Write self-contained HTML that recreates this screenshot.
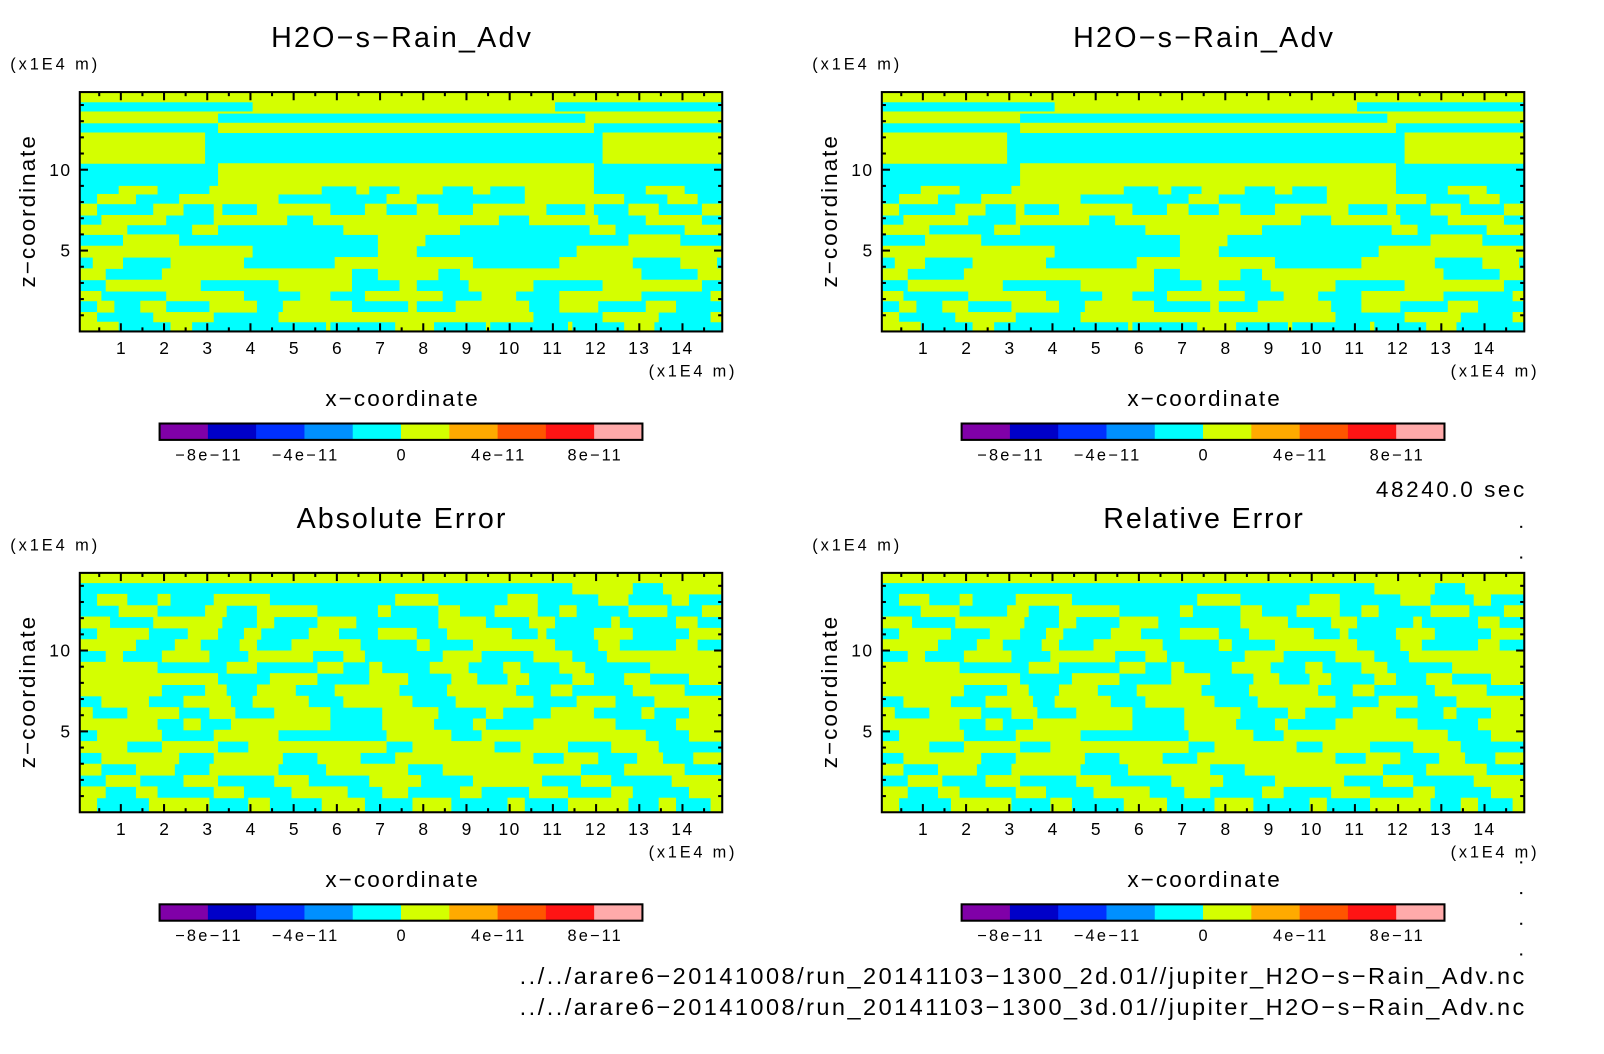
<!DOCTYPE html>
<html><head><meta charset="utf-8"><style>
html,body{margin:0;padding:0;background:#fff}
svg{display:block}
text{font-family:"Liberation Sans","DejaVu Sans",sans-serif;fill:#000}
</style></head><body>
<svg id="fig" width="1604" height="1054" viewBox="0 0 1604 1054" xmlns="http://www.w3.org/2000/svg"><g id="root" transform="scale(1.023)"></g></svg>
<script>
// ---- data ----
const colorLevels = ["#8000a8","#0000c8","#0030ff","#0090ff","#00ffff","#d4ff00","#ffaa00","#ff5500","#ff1414","#ffaaaa"];
const colorbarTicks = ["-8e-11","-4e-11","0","4e-11","8e-11"];
const xTicks = [1,2,3,4,5,6,7,8,9,10,11,12,13,14];
const zTicks = [5,10];
const panelTitles = ["H2O-s-Rain_Adv","H2O-s-Rain_Adv","Absolute Error","Relative Error"];
// rows: [zBottom, zTop, [yellow intervals in x]]
const fieldRowsModel = [
 [14.2,14.9,[[0,15]]],
 [13.6,14.2,[[3.9,11.2]]],
 [13.5,13.6,[[0,15]]],
 [12.9,13.5,[[0,3.4],[11.6,15]]],
 [12.3,12.9,[[3.1,12.1]]],
 [10.4,12.3,[[0,3.1],[12.0,15]]],
 [10.1,10.4,[[3.1,12.1]]],
 [9.0,10.1,[[3.1,12.1]]],
 [8.5,9.0,[[0,0.2],[0.8,2.0],[2.9,5.8],[6.3,6.9],[7.3,8.6],[9.0,9.7],[10.2,12.1],[13.0,14.2],[14.8,15]]],
 [7.9,8.5,[[0.3,1.5],[2.2,4.8],[7.0,8.0],[10.2,12.8],[13.5,14.5]]],
 [7.2,7.9,[[0,0.6],[1.6,2.6],[3.0,3.5],[4.0,6.0],[6.5,7.3],[7.7,8.5],[9.0,11.0],[11.6,12.1],[12.6,13.6],[14.3,15]]],
 [6.6,7.2,[[0.4,2.2],[3.0,5.0],[5.3,9.9],[10.3,12.2],[13.0,14.6]]],
 [6.0,6.6,[[0,1.3],[2.5,3.4],[6.0,9.0],[11.7,12.6],[13.9,15]]],
 [5.3,6.0,[[0.9,2.5],[6.8,8.2],[12.6,14.1]]],
 [4.6,5.3,[[0,4.2],[6.8,8.0],[11.4,15]]],
 [3.9,4.6,[[0.2,1.2],[2.0,4.0],[5.8,9.3],[11.0,13.0],[13.8,14.8]]],
 [3.2,3.9,[[0,0.8],[1.8,6.5],[6.8,8.5],[8.7,13.2],[14.2,15]]],
 [2.5,3.2,[[0.5,3.0],[4.5,6.5],[7.3,8.0],[8.9,10.7],[12.0,14.6]]],
 [1.9,2.5,[[0,0.7],[1.9,4.0],[5.0,6.0],[6.5,8.6],[9.2,10.3],[11.0,13.2],[14.5,15]]],
 [1.2,1.9,[[0.3,1.0],[1.3,2.2],[2.9,4.3],[4.6,6.5],[7.5,8.0],[8.6,10.6],[11.0,12.2],[13.0,14.0]]],
 [0.6,1.2,[[0,0.6],[1.6,3.3],[4.5,10.7],[12.0,13.6],[14.5,15]]],
 [0,0.6,[[0,1.1],[2.0,2.8],[5.6,6.0],[7.2,8.4],[9.3,9.7],[11.2,11.6],[12.5,13.5]]]
];
const fieldRowsError = [
 [14.2,14.9,[[0,15]]],
 [13.5,14.2,[[11.3,13.0],[13.4,14.9]]],
 [12.8,13.5,[[0.3,1.3],[1.7,2.3],[3.0,4.6],[7.2,8.5],[9.8,10.8],[11.9,12.9],[13.6,14.3]]],
 [12.1,12.8,[[0.8,2.0],[2.8,3.6],[4.0,5.7],[6.8,7.4],[8.2,9.0],[9.5,10.8],[11.0,11.7],[12.6,13.8],[14.3,14.9]]],
 [11.4,12.1,[[0,0.9],[1.6,3.5],[4.0,4.7],[5.4,6.6],[8.2,9.6],[10.3,11.2],[12.2,12.7],[13.7,14.5]]],
 [10.7,11.4,[[0.3,1.8],[2.4,3.4],[3.7,4.4],[5.2,6.2],[6.8,8.0],[8.4,10.2],[10.5,11.0],[11.8,13.0],[14.0,14.9]]],
 [10.0,10.7,[[0,1.5],[2.1,3.0],[3.6,4.3],[4.8,6.7],[7.7,8.3],[9.0,11.2],[11.9,12.7],[13.7,14.5]]],
 [9.3,10.0,[[0.5,1.2],[1.8,3.2],[3.8,5.6],[6.0,6.8],[8.3,9.5],[10.4,11.6],[12.1,14.9]]],
 [8.6,9.3,[[0,2.0],[3.3,4.3],[5.4,6.3],[6.6,7.2],[8.0,9.2],[9.7,10.4],[11.0,11.9],[13.1,14.9]]],
 [7.9,8.6,[[0,3.4],[4.3,5.7],[6.6,7.8],[8.5,9.4],[9.8,10.6],[11.3,12.1],[12.5,13.4],[14.0,14.9]]],
 [7.2,7.9,[[0,2.1],[2.8,3.6],[4.0,5.2],[5.8,7.6],[8.4,10.3],[10.8,11.6],[12.7,14.2]]],
 [6.5,7.2,[[0.4,1.8],[2.3,3.7],[3.9,5.5],[6.0,7.9],[8.6,10.7],[11.4,12.6],[13.2,14.9]]],
 [5.8,6.5,[[0,0.5],[1.0,2.5],[2.9,3.8],[4.4,6.0],[6.9,8.5],[9.3,10.0],[10.8,12.1],[12.9,13.5],[14.0,14.9]]],
 [5.1,5.8,[[0,2.0],[2.3,3.0],[3.4,6.0],[6.9,8.4],[9.0,9.6],[10.4,12.6],[13.7,14.9]]],
 [4.4,5.1,[[0.3,2.1],[3.0,4.8],[7.0,8.8],[9.2,13.3],[14.0,14.9]]],
 [3.7,4.4,[[0,1.3],[1.8,3.4],[3.8,7.3],[7.6,9.8],[10.1,11.5],[12.2,13.6]]],
 [3.0,3.7,[[0.4,2.5],[3.0,4.9],[5.4,6.7],[7.2,10.7],[11.1,12.2],[12.8,13.7],[14.1,14.9]]],
 [2.3,3.0,[[0,0.7],[1.2,2.4],[2.9,4.8],[5.6,7.8],[8.3,11.8],[12.5,14.2]]],
 [1.6,2.3,[[0.5,1.6],[2.3,3.4],[4.4,5.5],[6.6,8.1],[9.0,10.9],[11.5,12.5],[13.6,14.9]]],
 [0.9,1.6,[[0,0.8],[1.2,2.0],[3.0,4.0],[4.8,6.4],[6.9,7.8],[8.7,9.5],[10.3,11.5],[12.2,13.0],[14.0,14.9]]],
 [0,0.9,[[0,0.6],[1.5,3.2],[3.8,4.6],[5.5,6.8],[7.6,8.8],[9.8,10.5],[11.2,12.9],[13.3,14.0],[14.5,14.9]]]
];
const panelFields = [fieldRowsModel, fieldRowsModel, fieldRowsError, fieldRowsError];
const panelOrigins = [[0,0],[784,0],[0,470],[784,470]];

// ---- drawing ----
const NS = "http://www.w3.org/2000/svg";
const svg = document.getElementById("root");
function mk(tag, attrs, parent, txt){
  const e = document.createElementNS(NS, tag);
  for (const k in attrs) e.setAttribute(k, attrs[k]);
  if (txt !== undefined) e.textContent = txt;
  (parent || svg).appendChild(e);
  return e;
}
const BX0 = 78, BX1 = 706, BY0 = 90, BY1 = 324;
const XMIN = 0.05, XMAX = 14.92, ZMIN = 0.0, ZMAX = 14.8;
const INSET = 0.15;
function sx(x){ return BX0 + (x - XMIN) / (XMAX - XMIN) * (BX1 - BX0); }
function sy(z){ return BY1 - (z - ZMIN) / (ZMAX - ZMIN) * (BY1 - BY0); }
function clampX(x){ return Math.max(XMIN, Math.min(XMAX, x)); }
function clampZ(z){ return Math.max(ZMIN, Math.min(ZMAX, z)); }
function txt(parent, s, x, y, size, len, anchor, name, extra){
  const a = {x: x, y: y, "font-size": size, "text-anchor": anchor || "start"};
  if (len) { a.textLength = len; a.lengthAdjust = "spacing"; }
  if (extra) Object.assign(a, extra);
  const t = mk("text", a, parent, s);
  
  
  return t;
}

panelOrigins.forEach((o, p) => {
  const g = mk("g", {transform: `translate(${o[0]},${o[1]})`});
  
  
  const tl = panelTitles[p] === "Absolute Error" ? 204 : (panelTitles[p] === "Relative Error" ? 195 : 254);
  txt(g, panelTitles[p].replace(/-/g, "\u2212"), 392 - tl/2, 46, 28, tl, "start", 'panel-title');
  txt(g, "(x1E4 m)", 10, 68, 16, 85, "start", 'z-unit-label');
  const plot = mk("g", {}, g);
  
  
  mk("rect", {x: BX0, y: BY0, width: BX1-BX0, height: BY1-BY0, fill: colorLevels[4]}, plot);
  panelFields[p].forEach(row => {
    const z0 = clampZ(row[0]), z1 = clampZ(row[1]);
    row[2].forEach(iv => {
      let a = iv[0], b = iv[1];
      if (b - a < 14) { if (a > 0.1) a += INSET; if (b < 14.8) b -= INSET; }
      const x0 = clampX(a), x1 = clampX(b);
      if (x1 <= x0) return;
      const r = mk("rect", {x: sx(x0), y: sy(z1), width: sx(x1)-sx(x0), height: Math.max(0, sy(z0)-sy(z1)) + 0.5, fill: colorLevels[5]}, plot);
      
      
    });
  });
  const axes = mk("g", {stroke: "#000", "stroke-width": 2}, g);
  
  
  for (let x = 0.5; x < XMAX; x += 0.5) {
    const L = (Math.abs(x - Math.round(x)) < 1e-6) ? 8 : 4;
    mk("line", {x1: sx(x), x2: sx(x), y1: BY1, y2: BY1 - L}, axes);
    mk("line", {x1: sx(x), x2: sx(x), y1: BY0, y2: BY0 + L}, axes);
  }
  for (let z = 1; z < ZMAX; z += 1) {
    const L = (z % 5 === 0) ? 8 : 4;
    mk("line", {x1: BX0, x2: BX0 + L, y1: sy(z), y2: sy(z)}, axes);
    mk("line", {x1: BX1, x2: BX1 - L, y1: sy(z), y2: sy(z)}, axes);
  }
  mk("rect", {x: BX0, y: BY0, width: BX1-BX0, height: BY1-BY0, fill: "none"}, axes);
  xTicks.forEach(v => {
    txt(g, String(v), sx(v), BY1 + 22, 17, null, "middle", 'x-tick-label', {"letter-spacing": v >= 10 ? "1.5" : "0"});
  });
  zTicks.forEach(v => {
    txt(g, String(v), BX0 - 8, sy(v) + 6, 17, null, "end", 'z-tick-label', {"letter-spacing": "1.5"});
  });
  txt(g, "(x1E4 m)", 634, 368, 16, 84, "start", 'x-unit-label');
  txt(g, "x\u2212coordinate", 318, 397, 22, 149, "start", 'x-axis-title');
  txt(g, "z\u2212coordinate", 0, 0, 22, 148, "middle", 'z-axis-title', {transform: "translate(34,207) rotate(-90)"});
  const cb = mk("g", {}, g);
  
  
  const CB0 = 156, CB1 = 628, cw = (CB1 - CB0) / colorLevels.length;
  colorLevels.forEach((c, i) => {
    const r = mk("rect", {x: CB0 + i*cw, y: 414, width: cw + 0.3, height: 16, fill: c}, cb);
    
    
  });
  mk("rect", {x: CB0, y: 414, width: CB1-CB0, height: 16, fill: "none", stroke: "#000", "stroke-width": 2}, cb);
  colorbarTicks.forEach((lab, i) => {
    const w = lab.length === 6 ? 64 : (lab.length === 5 ? 52 : 0);
    txt(cb, lab.replace(/-/g, "\u2212"), CB0 + (2*i+1)*cw, 450, 16, w || null, "middle", 'colorbar-tick-label');
  });
});

txt(svg, "48240.0 sec", 1345, 486, 22, 145, "start", 'time-label');
txt(svg, "../../arare6\u221220141008/run_20141103\u22121300_2d.01//jupiter_H2O\u2212s\u2212Rain_Adv.nc", 508, 962, 23, 982, "start", 'file-path-2d');
txt(svg, "../../arare6\u221220141008/run_20141103\u22121300_3d.01//jupiter_H2O\u2212s\u2212Rain_Adv.nc", 508, 992, 23, 982, "start", 'file-path-3d');
[514,544,842,872,902,932].forEach(y => {
  const d = mk("rect", {x: 1486, y: y, width: 2, height: 2, fill: "#000"});
  
  
});
</script>
</body></html>
